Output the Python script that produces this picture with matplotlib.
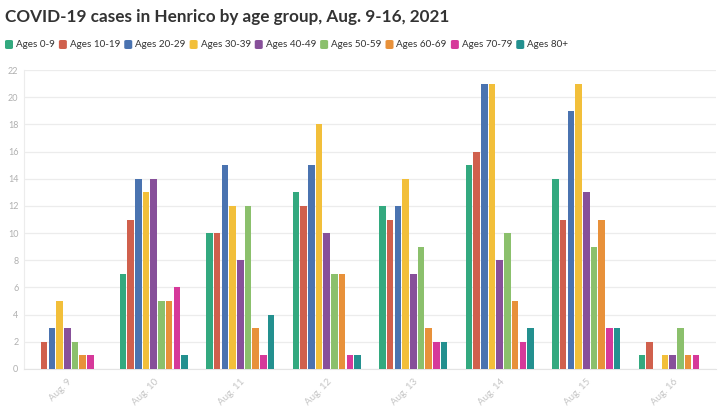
import matplotlib
matplotlib.use("Agg")
import matplotlib.pyplot as plt
import numpy as np
from matplotlib.patches import FancyBboxPatch

dates = ["Aug. 9", "Aug. 10", "Aug. 11", "Aug. 12", "Aug. 13", "Aug. 14", "Aug. 15", "Aug. 16"]
groups = ["Ages 0-9", "Ages 10-19", "Ages 20-29", "Ages 30-39", "Ages 40-49",
          "Ages 50-59", "Ages 60-69", "Ages 70-79", "Ages 80+"]
ages_0_9 = [0, 7, 10, 13, 12, 15, 14, 1]
ages_10_19 = [2, 11, 10, 12, 11, 16, 11, 2]
ages_20_29 = [3, 14, 15, 15, 12, 21, 19, 0]
ages_30_39 = [5, 13, 12, 18, 14, 21, 21, 1]
ages_40_49 = [3, 14, 8, 10, 7, 8, 13, 1]
ages_50_59 = [2, 5, 12, 7, 9, 10, 9, 3]
ages_60_69 = [1, 5, 3, 7, 3, 5, 11, 1]
ages_70_79 = [1, 6, 1, 1, 2, 2, 3, 1]
ages_80_plus = [0, 1, 4, 1, 2, 3, 3, 0]
series = [ages_0_9, ages_10_19, ages_20_29, ages_30_39, ages_40_49,
          ages_50_59, ages_60_69, ages_70_79, ages_80_plus]
colors = ["#33a97f", "#d0604d", "#4a73b0", "#f2bf3a", "#87509a",
          "#8bc06c", "#e8913a", "#d6399a", "#23908f"]

FONT = "Lato"

fig = plt.figure(figsize=(7.27, 4.08), dpi=100)
ax = fig.add_axes([24/727, 39/408, 692/727, 299/408])

n = len(groups)
x = np.arange(len(dates))
band = 0.8
slot = band / n
for i, (vals, c) in enumerate(zip(series, colors)):
    ax.bar(x - band/2 + slot*(i+0.5), vals, width=slot*0.86, color=c, zorder=3)

ax.set_xlim(-0.5, len(dates)-0.5)
ax.set_ylim(0, 22)
ax.set_yticks(range(0, 23, 2))
ax.set_xticks(x)
ax.set_xticklabels(dates, rotation=45, ha="right", rotation_mode="anchor",
                   fontsize=7, color="#c4c4c4", family=FONT)
for lab in ax.get_yticklabels():
    lab.set_fontsize(6.5)
    lab.set_color("#b0b0b0")
    lab.set_family(FONT)
ax.tick_params(axis="both", length=0, pad=4)
ax.tick_params(axis="x", pad=6)
ax.grid(axis="y", color="#ececec", linewidth=0.9, zorder=0)
for s in ["top", "right"]:
    ax.spines[s].set_visible(False)
ax.spines["left"].set_color("#ececec")
ax.spines["bottom"].set_color("#e4e4e4")

fig.text(5/727, 1 - 17/408, "COVID-19 cases in Henrico by age group, Aug. 9-16, 2021",
         fontsize=12.3, fontweight="bold", family=FONT, color="#333333", va="center")

# legend
xpos = 5
ypix = 44.5
r = fig.canvas.get_renderer()
for g, c in zip(groups, colors):
    sq = FancyBboxPatch((xpos/727, 1 - (ypix+4.5)/408), 8/727, 9/408,
                        boxstyle="round,pad=0,rounding_size=0.003",
                        transform=fig.transFigure, facecolor=c, edgecolor="none")
    fig.patches.append(sq)
    t = fig.text((xpos+11)/727, 1 - ypix/408, g, fontsize=7.1, family=FONT,
                 color="#333333", va="center")
    bb = t.get_window_extent(renderer=r)
    xpos = xpos + 11 + bb.width + 4

fig.savefig("out.png", dpi=100)
